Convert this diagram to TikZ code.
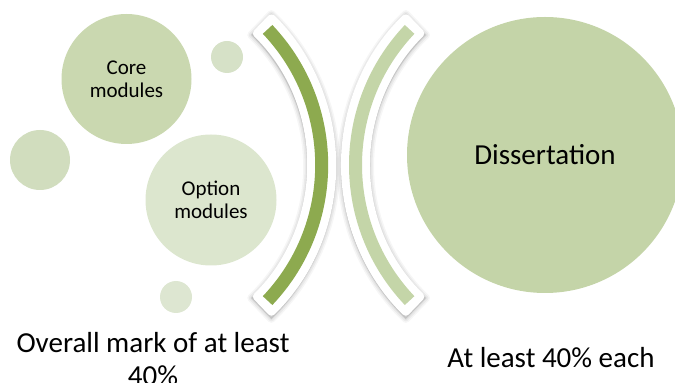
\documentclass[tikz,border=0pt]{standalone}
\usepackage{fontspec}
\setmainfont{Carlito}
\definecolor{darkarc}{HTML}{8DAA4F}
\definecolor{lightarc}{HTML}{C4D5A8}
\definecolor{corec}{HTML}{CAD8B0}
\definecolor{optc}{HTML}{DCE6CE}
\definecolor{dissc}{HTML}{C4D4A8}
\definecolor{leftc}{HTML}{D1DDBE}
\definecolor{smalltr}{HTML}{D6E1C7}
\definecolor{smallb}{HTML}{DDE6D1}
% #1 options, #2 cx, #3 cy, #4 R, #5 a1, #6 a2
\newcommand{\bandshape}[6]{%
  \path[#1, shift={(#2,#3)}] (#5:#4+14.5) arc[start angle=#5, end angle=#6, radius=#4+14.5]
    -- (#6:#4-14.5) arc[start angle=#6, end angle=#5, radius=#4-14.5] -- cycle;}
% #1 cx, #2 cy, #3 R, #4 a1, #5 a2 (extended outline)
\newcommand{\outlineband}[5]{%
  \bandshape{fill=black!70, draw=black!70, line width=8pt, line join=round, opacity=0.05, yshift=-1.5pt}{#1}{#2}{#3}{#4}{#5}
  \bandshape{fill=black!70, draw=black!70, line width=5pt, line join=round, opacity=0.07, yshift=-1.5pt}{#1}{#2}{#3}{#4}{#5}
  \bandshape{fill=black!70, draw=black!70, line width=2pt, line join=round, opacity=0.08, yshift=-1.5pt}{#1}{#2}{#3}{#4}{#5}
  \bandshape{fill=white, rounded corners=4pt}{#1}{#2}{#3}{#4}{#5}
}
\begin{document}
\begin{tikzpicture}[x=1pt,y=1pt,
  bubble/.style={circle, inner sep=0pt, outer sep=0pt, align=center, text=black},
  smallfont/.style={font=\fontsize{21}{23}\selectfont},
  bigfont/.style={font=\fontsize{29}{33}\selectfont},
  bandline/.style={line width=13pt, line cap=butt}
]
\useasboundingbox (0,0) rectangle (675,383);
\clip (0,0) rectangle (675,383);

% bubbles
\node[bubble, fill=corec, minimum size=130pt, smallfont] (core) at (126.5,304) {Core\\modules};
\node[bubble, fill=smalltr, minimum size=32pt] (dottr) at (227,326) {};
\node[bubble, fill=leftc, minimum size=60pt] (dotl) at (40,223) {};
\node[bubble, fill=optc, minimum size=131pt, smallfont] (option) at (211,183) {Option\\modules};
\node[bubble, fill=smallb, minimum size=32pt] (dotb) at (176,86) {};
\node[bubble, fill=dissc, minimum size=276pt, bigfont] (diss) at (545,228) {Dissertation};

% brackets
\outlineband{124.7}{218}{197}{-46.1}{46.1}
\draw[bandline, darkarc, shift={(124.7,218)}] (-43.5:197) arc[start angle=-43.5, end angle=43.5, radius=197];
\outlineband{552.5}{218}{197}{133.9}{226.1}
\draw[bandline, lightarc, shift={(552.5,218)}] (136.5:197) arc[start angle=136.5, end angle=223.5, radius=197];

% captions
\node[bigfont, align=center, anchor=base, inner sep=0pt] (req1) at (153,-2) {Overall mark of at least\\40\%};
\node[bigfont, anchor=base, inner sep=0pt] (req2) at (551,15) {At least 40\% each};
\end{tikzpicture}
\end{document}
